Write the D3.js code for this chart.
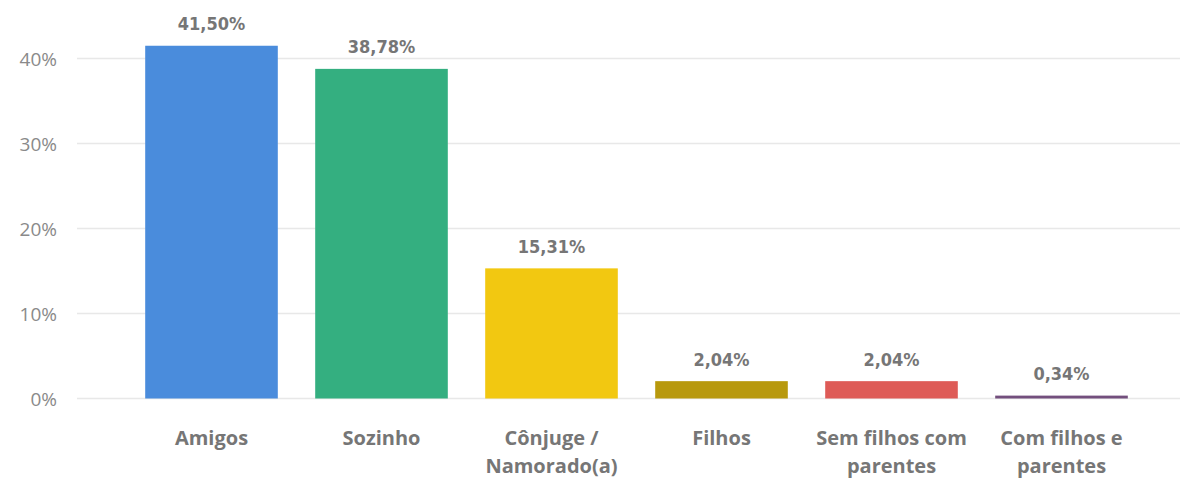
<!DOCTYPE html>
<html>
<head>
<meta charset="utf-8">
<script src="https://cdn.jsdelivr.net/npm/d3@7"></script>
<style>
  body { margin: 0; background: #fff; }
  svg { display: block; }
</style>
</head>
<body>
<svg id="chart" width="1189" height="478"></svg>
<script>
const categories = [["Amigos"], ["Sozinho"], ["Cônjuge /", "Namorado(a)"], ["Filhos"], ["Sem filhos com", "parentes"], ["Com filhos e", "parentes"]];
const values = [41.50, 38.78, 15.31, 2.04, 2.04, 0.34];
const colors = ["#4A8CDC", "#34AF80", "#F2C811", "#B8990D", "#DE5B57", "#734F7D"];
const yTicks = [0, 10, 20, 30, 40];

const svg = d3.select("#chart");
const keys = categories.map(c => c.join(" "));

const x = d3.scaleBand().domain(keys).range([126.5, 1146.5]).paddingInner(0.22).paddingOuter(0.11);
const y = d3.scaleLinear().domain([0, 40]).range([398.5, 58.5]);

// gridlines
svg.append("g").selectAll("line")
  .data(yTicks)
  .enter().append("line")
    .attr("x1", 77).attr("x2", 1180)
    .attr("y1", d => y(d)).attr("y2", d => y(d))
    .attr("stroke", "#e8e8e8").attr("stroke-width", 1.5);

// y axis labels
svg.append("g").selectAll("text")
  .data(yTicks)
  .enter().append("text")
    .attr("x", 57).attr("y", d => y(d) + 7)
    .attr("text-anchor", "end")
    .attr("font-family", "'Open Sans', 'Noto Sans', sans-serif")
    .attr("font-size", 19)
    .attr("fill", "#8a8a8a")
    .text(d => d + "%");

// bars
svg.append("g").selectAll("rect")
  .data(values)
  .enter().append("rect")
    .attr("x", (d, i) => x(keys[i]))
    .attr("width", x.bandwidth())
    .attr("y", d => y(d))
    .attr("height", d => y(0) - y(d))
    .attr("fill", (d, i) => colors[i]);

// value labels
svg.append("g").selectAll("text")
  .data(values)
  .enter().append("text")
    .attr("x", (d, i) => x(keys[i]) + x.bandwidth() / 2)
    .attr("y", d => y(d) - 15.5)
    .attr("text-anchor", "middle")
    .attr("font-family", "'DejaVu Sans Condensed', 'Roboto', sans-serif")
    .attr("font-weight", "bold")
    .attr("font-size", 18)
    .attr("fill", "#767676")
    .text(d => d.toFixed(2).replace(".", ",") + "%");

// category labels
const cat = svg.append("g").selectAll("text")
  .data(categories)
  .enter().append("text")
    .attr("x", (d, i) => x(keys[i]) + x.bandwidth() / 2)
    .attr("y", 445)
    .attr("text-anchor", "middle")
    .attr("font-family", "'Open Sans', 'Noto Sans', sans-serif")
    .attr("font-weight", "bold")
    .attr("font-size", 20)
    .attr("fill", "#767676");

cat.selectAll("tspan")
  .data(d => d)
  .enter().append("tspan")
    .attr("x", function() { return d3.select(this.parentNode).attr("x"); })
    .attr("dy", (d, i) => i === 0 ? 0 : 28)
    .text(d => d);
</script>
</body>
</html>
